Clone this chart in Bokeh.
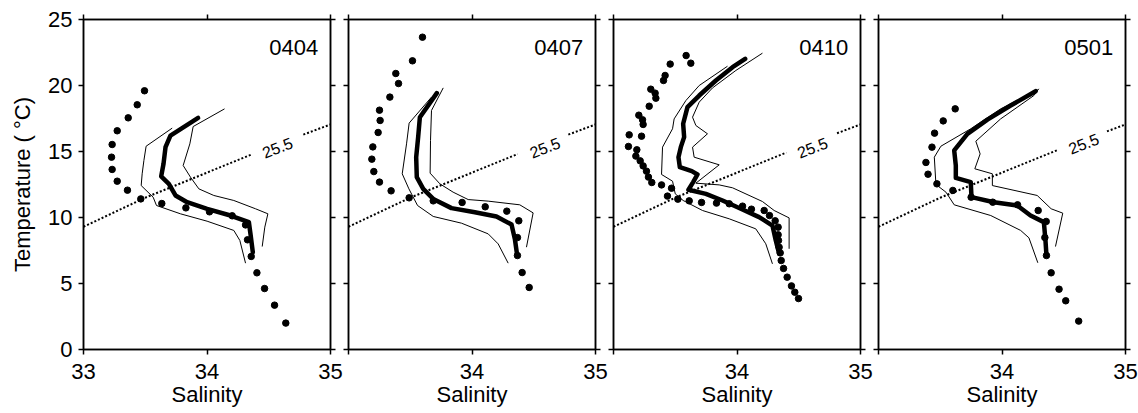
from bokeh.plotting import figure
from bokeh.layouts import row
from bokeh.models import FixedTicker, LinearAxis, Label
from bokeh.embed import file_html
from bokeh.resources import INLINE

FONT = "Liberation Sans"
PANELS = ["0404", "0407", "0410", "0501"]
X_TICKS = [33, 34, 35]
Y_TICKS = [0, 5, 10, 15, 20, 25]
X_LABEL = "Salinity"
Y_LABEL = "Temperature ( °C)"
ISO_LABEL = "25.5"

# sigma-theta 25.5 isopycnal (salinity, temperature)
ISO_S = [33.0, 33.5, 34.0, 34.5, 35.0]
ISO_T = [9.3, 11.5, 13.4, 15.3, 17.05]
# gap in the isopycnal for its label, per panel (salinity from, to)
ISO_GAP_FROM = [34.36, 34.37, 34.40, 34.45]
ISO_GAP_TO = [34.78, 34.78, 34.81, 34.85]
ISO_LABEL_S = [34.57, 34.59, 34.61, 34.66]
ISO_LABEL_T = [15.3, 15.3, 15.3, 15.6]

# ---- 0404 ----
S_DOT_0404 = [33.494, 33.435, 33.362, 33.273, 33.232, 33.227, 33.232, 33.273, 33.356, 33.464, 33.634,
              33.829, 34.02, 34.204, 34.312, 34.328, 34.358, 34.404, 34.466, 34.547, 34.638]
T_DOT_0404 = [19.6, 18.54, 17.55, 16.57, 15.53, 14.57, 13.64, 12.75, 12.07, 11.41, 11.06,
              10.73, 10.43, 10.13, 9.44, 8.31, 7.05, 5.81, 4.62, 3.36, 2.0]
S_MEAN_0404 = [33.928, 33.704, 33.664, 33.648, 33.629, 33.691, 33.745, 33.839, 34.001, 34.19, 34.339, 34.352, 34.371]
T_MEAN_0404 = [17.55, 16.21, 15.33, 14.07, 13.11, 12.55, 11.67, 11.16, 10.66, 10.15, 9.65, 8.76, 7.37]
S_LO_0404 = [33.718, 33.507, 33.489, 33.475, 33.467, 33.564, 33.591, 33.785, 34.001, 34.217, 34.266, 34.312]
T_LO_0404 = [16.77, 15.40, 14.32, 13.31, 12.42, 11.54, 10.91, 10.28, 9.72, 9.02, 8.26, 6.54]
S_HI_0404 = [34.142, 33.888, 33.861, 33.807, 33.866, 33.934, 34.055, 34.217, 34.393, 34.493, 34.468, 34.447]
T_HI_0404 = [18.23, 16.89, 15.58, 13.94, 13.06, 12.17, 11.67, 11.29, 10.66, 10.28, 9.27, 7.8]

# ---- 0407 ----
S_DOT_0407 = [33.599, 33.518, 33.383, 33.405, 33.335, 33.251, 33.256, 33.24, 33.197, 33.189, 33.205, 33.251,
              33.345, 33.491, 33.686, 33.92, 34.107, 34.282, 34.379, 34.368, 34.368, 34.406, 34.463]
T_DOT_0407 = [23.66, 21.87, 20.91, 20.15, 19.12, 18.13, 17.35, 16.44, 15.35, 14.42, 13.48, 12.68,
              12.02, 11.49, 11.26, 11.14, 10.81, 10.48, 9.75, 8.48, 7.12, 5.83, 4.70]
S_MEAN_0407 = [33.715, 33.578, 33.564, 33.548, 33.553, 33.605, 33.686, 33.834, 34.023, 34.198, 34.32, 34.347, 34.366]
T_MEAN_0407 = [19.42, 17.6, 16.09, 14.57, 13.06, 12.17, 11.41, 10.71, 10.4, 10.08, 9.47, 8.38, 7.12]
S_LO_0407 = [33.672, 33.491, 33.47, 33.435, 33.489, 33.559, 33.686, 33.915, 34.131, 34.212, 34.293]
T_LO_0407 = [19.12, 17.15, 15.58, 13.31, 12.17, 10.91, 10.08, 9.57, 8.76, 8.0, 6.54]
S_HI_0407 = [33.767, 33.672, 33.664, 33.661, 33.74, 33.847, 33.969, 34.131, 34.387, 34.495, 34.441]
T_HI_0407 = [19.82, 18.11, 15.83, 13.36, 12.55, 11.92, 11.36, 11.24, 10.96, 10.35, 7.75]

# ---- 0410 ----
S_DOT_0410 = [33.588, 33.626, 33.459, 33.418, 33.405, 33.302, 33.337, 33.343, 33.289, 33.205, 33.235, 33.24,
              33.127, 33.227, 33.121, 33.189, 33.181, 33.216, 33.24, 33.267, 33.283, 33.31, 33.389, 33.47,
              33.437, 33.521, 33.613, 33.713, 33.834, 33.937, 34.045, 34.117, 34.22, 34.263, 34.309, 34.333,
              34.333, 34.336, 34.341, 34.35, 34.358, 34.377, 34.406, 34.441, 34.468, 34.498]
T_DOT_0410 = [22.27, 21.69, 21.62, 20.76, 20.38, 19.72, 19.42, 19.04, 18.43, 17.75, 17.4, 17.05,
              16.26, 16.16, 15.38, 15.13, 14.65, 14.29, 13.91, 13.51, 13.06, 12.65, 12.47, 12.22,
              11.62, 11.39, 11.26, 11.14, 11.09, 11.04, 10.86, 10.63, 10.53, 10.15, 9.75, 9.27,
              8.69, 8.26, 7.75, 7.32, 6.74, 6.14, 5.48, 4.82, 4.34, 3.86]
S_MEAN_0410 = [34.066, 33.964, 33.829, 33.694, 33.599, 33.564, 33.572, 33.545, 33.526, 33.537, 33.634,
               33.68, 33.645, 33.607, 33.748, 33.883, 34.031, 34.179, 34.287, 34.314, 34.341]
T_MEAN_0410 = [22.02, 21.39, 20.38, 19.24, 18.36, 17.1, 16.09, 15.33, 14.57, 13.81, 13.51,
               13.26, 12.68, 12.1, 11.79, 11.29, 10.66, 10.03, 9.39, 8.26, 7.25]
S_LO_0410 = [33.923, 33.694, 33.586, 33.491, 33.478, 33.397, 33.389, 33.478, 33.5, 33.564, 33.721,
             33.937, 34.152, 34.233, 34.287]
T_LO_0410 = [21.46, 20.0, 18.86, 17.47, 16.72, 15.33, 13.26, 12.75, 11.79, 11.29, 10.53,
             9.9, 9.14, 8.01, 6.49]
S_HI_0410 = [34.206, 33.991, 33.802, 33.694, 33.64, 33.667, 33.761, 33.64, 33.653, 33.856, 33.667,
             33.856, 33.964, 34.206, 34.301, 34.422, 34.422]
T_HI_0410 = [22.45, 21.14, 19.82, 18.74, 17.6, 16.97, 16.34, 15.33, 14.57, 13.99, 12.6,
             12.47, 12.25, 11.21, 10.53, 9.97, 7.63]

# ---- 0501 ----
S_DOT_0501 = [33.621, 33.524, 33.454, 33.433, 33.384, 33.401, 33.473, 33.602, 33.75, 33.925, 34.126,
              34.293, 34.358, 34.347, 34.36, 34.398, 34.462, 34.516, 34.621]
T_DOT_0501 = [18.23, 17.32, 16.39, 15.33, 14.17, 13.28, 12.55, 12.05, 11.54, 11.16, 10.96,
              10.53, 9.7, 8.48, 7.12, 5.81, 4.57, 3.69, 2.15]
S_MEAN_0501 = [34.272, 34.07, 33.882, 33.72, 33.613, 33.626, 33.626, 33.747, 33.753, 33.935, 34.124,
               34.231, 34.339, 34.352, 34.36]
T_MEAN_0501 = [19.57, 18.48, 17.42, 16.34, 15.08, 13.94, 13.0, 12.68, 11.54, 11.16, 10.91,
               10.15, 9.65, 8.26, 7.12]
S_LO_0501 = [34.29, 33.989, 33.747, 33.505, 33.452, 33.465, 33.546, 33.613, 33.909, 34.151, 34.218, 34.29]
T_LO_0501 = [19.67, 18.23, 16.72, 15.4, 14.57, 12.5, 11.92, 10.96, 10.15, 9.02, 8.46, 6.57]
S_HI_0501 = [34.298, 34.258, 33.989, 33.788, 33.823, 33.78, 33.922, 33.922, 34.285, 34.398, 34.492, 34.433]
T_HI_0501 = [19.75, 19.24, 17.47, 15.78, 14.82, 13.69, 13.31, 12.42, 11.67, 10.66, 10.33, 7.8]

DATA = {
    "0404": (S_DOT_0404, T_DOT_0404, S_MEAN_0404, T_MEAN_0404, S_LO_0404, T_LO_0404, S_HI_0404, T_HI_0404),
    "0407": (S_DOT_0407, T_DOT_0407, S_MEAN_0407, T_MEAN_0407, S_LO_0407, T_LO_0407, S_HI_0407, T_HI_0407),
    "0410": (S_DOT_0410, T_DOT_0410, S_MEAN_0410, T_MEAN_0410, S_LO_0410, T_LO_0410, S_HI_0410, T_HI_0410),
    "0501": (S_DOT_0501, T_DOT_0501, S_MEAN_0501, T_MEAN_0501, S_LO_0501, T_LO_0501, S_HI_0501, T_HI_0501),
}


def iso_interp(s):
    for k in range(len(ISO_S) - 1):
        if ISO_S[k] <= s <= ISO_S[k + 1]:
            f = (s - ISO_S[k]) / (ISO_S[k + 1] - ISO_S[k])
            return ISO_T[k] + f * (ISO_T[k + 1] - ISO_T[k])
    return ISO_T[-1]


def make_axis(labeled_ticks, unlabeled_ticks, label=None):
    """Ticks that carry labels are major ticks; label-less ticks are drawn as minor ticks
    styled exactly like the major ones."""
    ax = LinearAxis(ticker=FixedTicker(ticks=labeled_ticks, minor_ticks=unlabeled_ticks))
    if label:
        ax.axis_label = label
    ax.axis_line_color = "black"
    ax.axis_line_width = 1.5
    for kind in ("major", "minor"):
        setattr(ax, f"{kind}_tick_line_color", "black")
        setattr(ax, f"{kind}_tick_line_width", 1.5)
        setattr(ax, f"{kind}_tick_out", 5)
        setattr(ax, f"{kind}_tick_in", 0)
    ax.major_label_text_font = FONT
    ax.major_label_text_color = "black"
    ax.major_label_text_font_size = "22px"
    ax.major_label_standoff = 6
    ax.axis_label_text_font = FONT
    ax.axis_label_text_font_size = "22px"
    ax.axis_label_text_font_style = "normal"
    ax.axis_label_text_color = "black"
    return ax


figs = []
for i, name in enumerate(PANELS):
    first = i == 0
    sd, td, sm, tm, sl, tl, sh, th = DATA[name]
    p = figure(x_range=(33, 35), y_range=(0, 25), frame_width=247, frame_height=330,
               min_border_left=83 if first else 4, min_border_right=13,
               min_border_top=19, min_border_bottom=64,
               x_axis_location=None, y_axis_location=None,
               output_backend="svg", toolbar_location=None)
    p.xgrid.grid_line_color = None
    p.ygrid.grid_line_color = None
    p.outline_line_color = "black"
    p.outline_line_width = 1.5
    p.background_fill_color = "white"
    p.border_fill_color = "white"

    if first:
        bx = make_axis(X_TICKS, [], X_LABEL)
    else:
        bx = make_axis(X_TICKS[1:], X_TICKS[:1], X_LABEL)
    bx.major_label_standoff = 9
    bx.axis_label_standoff = 0
    p.add_layout(bx, "below")
    p.add_layout(make_axis([], X_TICKS), "above")
    if first:
        ly = make_axis(Y_TICKS, [], Y_LABEL)
        ly.axis_label_standoff = 10
    else:
        ly = make_axis([], Y_TICKS)
    p.add_layout(ly, "left")
    p.add_layout(make_axis([], Y_TICKS), "right")

    # isopycnal with a gap for its label
    g0, g1 = ISO_GAP_FROM[i], ISO_GAP_TO[i]
    left_s = [s for s in ISO_S if s < g0] + [g0]
    right_s = [g1] + [s for s in ISO_S if s > g1]
    xs = left_s + [float("nan")] + right_s
    ys = [iso_interp(s) for s in left_s] + [float("nan")] + [iso_interp(s) for s in right_s]
    p.line(xs, ys, line_color="black", line_width=2, line_dash="2 2")
    p.add_layout(Label(x=ISO_LABEL_S[i], y=ISO_LABEL_T[i], text=ISO_LABEL, angle=21,
                       angle_units="deg", text_align="center", text_baseline="middle",
                       text_font=FONT, text_font_size="16px", text_color="black"))

    p.line(sl, tl, line_color="black", line_width=1)
    p.line(sh, th, line_color="black", line_width=1)
    p.line(sm, tm, line_color="black", line_width=4.5, line_join="round", line_cap="round")
    p.scatter(sd, td, size=6.5, fill_color="black", line_color="black")

    p.add_layout(Label(x=34.90, y=22.9, text=name, text_align="right", text_baseline="alphabetic",
                       text_font=FONT, text_font_size="22px", text_color="black"))
    figs.append(p)

layout = row(*figs)
open("out.html", "w").write(file_html(layout, INLINE))
